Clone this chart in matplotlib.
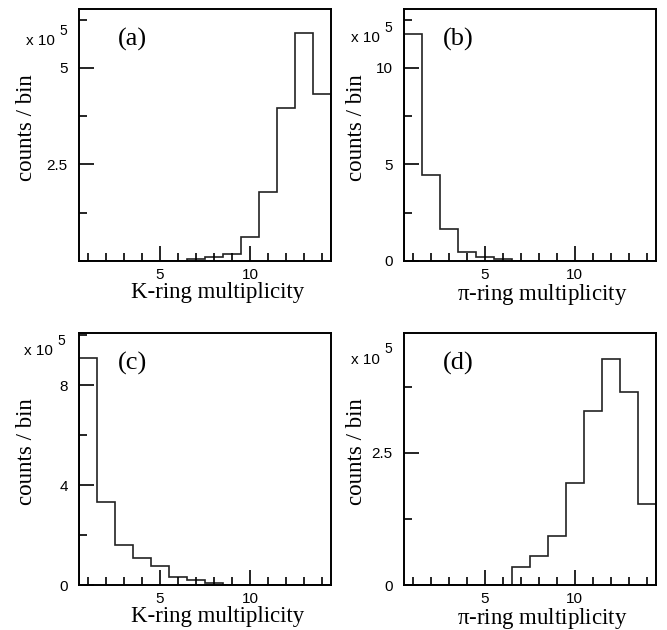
import numpy as np
import matplotlib
matplotlib.use('Agg')
import matplotlib.pyplot as plt
import matplotlib.transforms as mtransforms
from matplotlib.ticker import MultipleLocator, FixedLocator

plt.rcParams['font.family'] = ['Liberation Sans', 'DejaVu Sans']
plt.rcParams['mathtext.fontset'] = 'custom'
plt.rcParams['mathtext.rm'] = 'Liberation Serif'
plt.rcParams['mathtext.it'] = 'Liberation Serif'

# multiplicity bins 1..14, counts in units of 1e5
multiplicity = np.arange(1, 15)
k_ring_a = [0, 0, 0, 0, 0, 0, 0.036, 0.09, 0.17, 0.61, 1.79, 3.97, 5.9, 4.33]
pi_ring_b = [11.74, 4.47, 1.62, 0.47, 0.18, 0.09, 0, 0, 0, 0, 0, 0, 0, 0]
k_ring_c = [9.08, 3.35, 1.61, 1.08, 0.77, 0.35, 0.21, 0.08, 0.03, 0, 0, 0, 0, 0]
pi_ring_d = [0, 0, 0, 0, 0, 0, 0.34, 0.56, 0.94, 1.93, 3.29, 4.28, 3.66, 1.53]

panels = [
    dict(vals=k_ring_a, tag='(a)', xlab='K-ring multiplicity', ymax=6.53,
         major=[2.5, 5], minor=1.25, pos=[0.1184, 0.5862, 0.378, 0.3995],
         exp_xy=(-0.095, 0.857), ylab_x=-0.168),
    dict(vals=pi_ring_b, tag='(b)', xlab=r'$\pi$-ring multiplicity', ymax=13.06,
         major=[0, 5, 10], minor=2.5, pos=[0.6052, 0.5862, 0.378, 0.3995],
         exp_xy=(-0.094, 0.867), ylab_x=-0.145),
    dict(vals=k_ring_c, tag='(c)', xlab='K-ring multiplicity', ymax=10.08,
         major=[0, 4, 8], minor=2, pos=[0.1184, 0.0710, 0.378, 0.400],
         exp_xy=(-0.103, 0.914), ylab_x=-0.165),
    dict(vals=pi_ring_d, tag='(d)', xlab=r'$\pi$-ring multiplicity', ymax=4.76,
         major=[0, 2.5], minor=1.25, pos=[0.6052, 0.0710, 0.378, 0.400],
         exp_xy=(-0.094, 0.879), ylab_x=-0.145),
]

fig = plt.figure(figsize=(6.67, 6.3), dpi=100)
edges = np.append(multiplicity - 0.5, multiplicity[-1] + 0.5)

for p in panels:
    ax = fig.add_axes(p['pos'])
    ax.stairs(p['vals'], edges, color='#222222', lw=1.2)
    ax.set_xlim(0.5, 14.5)
    ax.set_ylim(0, p['ymax'])

    ax.xaxis.set_major_locator(FixedLocator([5, 10]))
    ax.xaxis.set_minor_locator(MultipleLocator(1))
    ax.yaxis.set_major_locator(FixedLocator(p['major']))
    ax.yaxis.set_minor_locator(MultipleLocator(p['minor']))
    ax.yaxis.set_major_formatter(plt.FuncFormatter(lambda v, _: f'{v:g}'))
    ax.tick_params(which='both', direction='in', top=False, right=False,
                   labelsize=11, width=1.2)
    ax.tick_params(which='major', length=11, pad=5)
    ax.tick_params(axis='y', which='major', pad=8)
    ax.tick_params(which='minor', length=6)
    for s in ax.spines.values():
        s.set_linewidth(1.4)

    ax.set_ylabel('counts / bin', family='Liberation Serif', fontsize=16.5)
    ax.yaxis.set_label_coords(p['ylab_x'], 0.53)
    ax.set_xlabel(p['xlab'], family='Liberation Serif', fontsize=16.5)
    ax.xaxis.set_label_coords(0.55, -0.084)

    ax.text(0.155, 0.88, p['tag'], transform=ax.transAxes, family='Liberation Serif',
            fontsize=19, ha='left', va='center')
    # "x 10" with a near full-size exponent, as in the original
    ex, ey = p['exp_xy']
    ax.text(ex, ey, 'x 10', transform=ax.transAxes, fontsize=11,
            ha='right', va='baseline')
    sup = mtransforms.offset_copy(ax.transAxes, fig=fig, x=3.5, y=7.5, units='points')
    ax.text(ex, ey, '5', transform=sup, fontsize=10, ha='left', va='baseline')

fig.savefig('out.png', dpi=100)
